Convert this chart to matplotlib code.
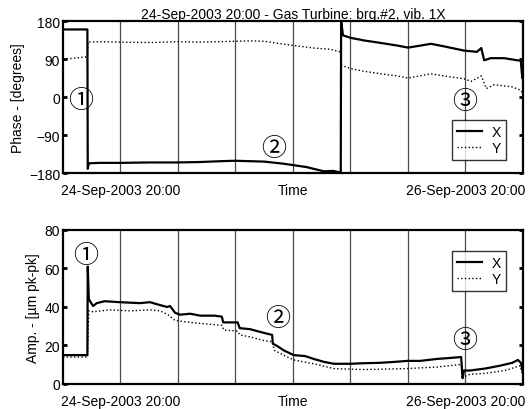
import numpy as np
import matplotlib
matplotlib.use('Agg')
import matplotlib.pyplot as plt

plt.rcParams['font.family'] = ['Liberation Sans', 'DejaVu Sans']
plt.rcParams['font.size'] = 10

# time axis in hours from 24-Sep-2003 12:00
tick_hours = [8, 16, 24, 32, 40, 48, 56]
tick_text = ['24-Sep-2003 20:00', '', '', 'Time', '', '', '26-Sep-2003 20:00']

# phase, X probe [deg]
ph_x_t = [0, 3.40, 3.45, 3.6, 5.1, 8.0, 12.1, 15.9, 19.1, 22.0, 23.9, 26.0, 28.0,
          30.7, 33.9, 36.3, 37.6, 38.4, 38.65,
          38.7, 38.75, 38.96, 40.07, 41.88, 44.24, 46.47, 48.0, 49.8, 51.2, 53.0,
          55.8, 57.6, 58.2, 58.6, 59.5, 61.4, 63.2, 63.7, 63.9, 64.0]
ph_x_v = [160, 160, -170, -157, -156, -156, -155, -155, -154, -152, -151, -152, -153,
          -158, -166, -176, -175, -178, -178,
          180, 174, 146, 140, 134, 128, 122, 117, 122, 126, 120,
          110, 107, 116, 87, 92, 92, 87, 86, 45, 43]
# phase, Y probe [deg]
ph_y_t = [0, 1.5, 3.2, 3.40, 3.5, 5.1, 8.0, 12.1, 16.0, 19.1, 23.9, 26.0, 28.0,
          30.4, 32.1, 34.9, 37.2, 38.6,
          38.75, 40.07, 41.88, 44.24, 46.47, 48.0, 51.2, 53.0, 55.8, 56.8, 58.2,
          58.9, 60.0, 62.5, 63.7, 64.0]
ph_y_v = [89, 92, 95, 95, 130, 131, 130, 129, 131, 130, 132, 133, 132,
          126, 122, 116, 113, 107,
          75, 67, 61, 55, 50, 45, 55, 50, 43, 37, 50,
          20, 29, 24, 16, 8]

# amplitude, X probe [um pk-pk]
am_x_t = [0, 3.40, 3.45, 3.6, 4.2, 4.7, 5.8, 7.9, 10.7, 12.1, 13.5, 14.5, 14.9, 15.6,
          16.3, 17.7, 19.1, 21.1, 22.1, 22.3, 24.3, 24.6, 26.0, 28.0, 29.1, 29.2,
          29.9, 30.7, 32.1, 33.7, 34.9, 36.3, 37.7, 39.9, 41.9, 44.1, 46.2, 47.9,
          49.7, 52.0, 53.8, 55.4, 55.6, 55.8, 56.6, 58.7, 60.8, 62.5, 63.3, 63.7, 64.0]
am_x_v = [15, 15, 61, 44, 40.5, 42, 43, 42.5, 42, 42.5, 41, 40, 40.5, 37,
          36, 36.5, 35.5, 35.5, 35, 32, 32, 29, 28.5, 26.5, 25.5, 21,
          19.5, 17.5, 15, 14.5, 13, 11.5, 10.5, 10.5, 10.8, 11, 11.5, 12,
          12, 13, 13.5, 14, 3, 7, 7, 8, 9.5, 11, 12.5, 11, 6]
# amplitude, Y probe [um pk-pk]
am_y_t = [0, 3.40, 3.6, 4.2, 6.5, 9.3, 12.1, 13.5, 14.6, 15.6, 17.7, 20.5, 22.1,
          22.4, 24.3, 24.6, 26.0, 28.0, 29.1, 29.4, 30.7, 32.1, 34.9, 37.7, 41.9,
          47.9, 52.0, 53.8, 55.4, 55.6, 56.6, 58.7, 61.5, 63.6, 64.0]
am_y_v = [14, 14, 38, 37.5, 38.5, 38, 38.5, 38, 36, 33, 32, 31, 30.5,
          28, 27.5, 25.5, 24.5, 22.5, 22, 17.5, 15, 12.5, 10.5, 8, 7.5,
          8, 8.8, 9.5, 10.2, 3.5, 5, 5.5, 7, 9.5, 4]

# circled event markers: (hours, value)
ph_marks = [('①', 2.5, -7), ('②', 29.3, -121), ('③', 55.9, -9)]
am_marks = [('①', 3.1, 67), ('②', 29.9, 34.5), ('③', 55.9, 23)]

fig = plt.figure(figsize=(5.29, 4.10), dpi=100)
ax1 = fig.add_axes([0.119, 0.5756, 0.8696, 0.3707])
ax2 = fig.add_axes([0.119, 0.0610, 0.8696, 0.3756])


def style_axes(ax, yticks):
    ax.set_xlim(0, 64)
    ax.set_xticks(tick_hours)
    ax.set_xticklabels(tick_text)
    ax.set_yticks(yticks)
    ax.grid(axis='x', color='#4a4a4a', linewidth=0.9)
    ax.tick_params(axis='x', length=0, pad=7)
    ax.tick_params(axis='y', direction='in', length=3, width=2, pad=2,
                   left=True, right=True)
    for sp in ax.spines.values():
        sp.set_linewidth(1.6)
    leg = ax.legend(loc='upper right', frameon=True, fancybox=False, fontsize=10,
                    handlelength=1.8, borderpad=0.35, labelspacing=0.15,
                    handletextpad=0.7, borderaxespad=0)
    leg.get_frame().set_edgecolor('black')
    leg.get_frame().set_linewidth(1.0)
    return leg


ax1.plot(ph_x_t, ph_x_v, color='black', lw=1.6, label='X')
ax1.plot(ph_y_t, ph_y_v, color='black', lw=1.0, ls=':', label='Y')
ax1.set_ylim(-180, 180)
leg1 = style_axes(ax1, [-180, -90, 0, 90, 180])
leg1.set_bbox_to_anchor((0.963, 0.349))
ax1.set_ylabel('Phase - [degrees]', labelpad=3)
ax1.set_title('24-Sep-2003 20:00 - Gas Turbine: brg.#2, vib. 1X', fontsize=10, pad=2)

ax2.plot(am_x_t, am_x_v, color='black', lw=1.6, label='X')
ax2.plot(am_y_t, am_y_v, color='black', lw=1.0, ls=':', label='Y')
ax2.set_ylim(0, 80)
leg2 = style_axes(ax2, [0, 20, 40, 60, 80])
leg2.set_bbox_to_anchor((0.963, 0.864))
ax2.set_ylabel('Amp. - [µm pk-pk]', labelpad=3)

for ax, marks in ((ax1, ph_marks), (ax2, am_marks)):
    for txt, h, v in marks:
        ax.text(h, v, txt, ha='center', va='center', fontsize=18,
                family=['Noto Sans CJK JP', 'DejaVu Sans'])

fig.savefig('out.png', dpi=100)
